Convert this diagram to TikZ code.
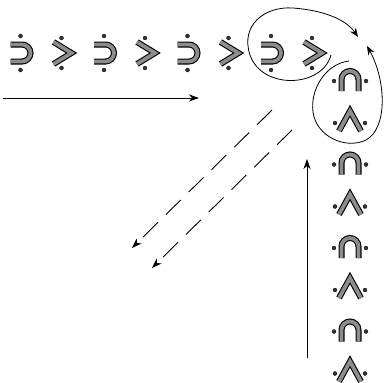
\documentclass[tikz,border=0pt]{standalone}
\usetikzlibrary{arrows.meta}
\tikzset{
  band/.style={line width=1.1pt, double=black!45, double distance=3.8pt},
  dotm/.style={fill=black!80, draw=black, line width=0.3pt},
  arr/.style={line width=0.9pt, -{Stealth[length=10pt,width=7pt,inset=3pt]}},
  darr/.style={arr, dash pattern=on 21pt off 11pt},
  loop/.style={line width=0.8pt, -{Stealth[length=9pt,width=7pt,inset=3pt]}},
  pics/capR/.style={code={
    \draw[band, rounded corners=8.5pt] (-11,-8.5) -- (9,-8.5) -- (9,8.5) -- (-11,8.5);
    \fill[dotm] (-1,-17) circle (2);
    \fill[dotm] (-1,17) circle (2);
  }},
  pics/chevR/.style={code={
    \draw[band, miter limit=10] (-9,-11) -- (9,0) -- (-9,11);
    \fill[dotm] (-1,-15) circle (2);
    \fill[dotm] (-1,15) circle (2);
  }},
  pics/capU/.style={code={
    \draw[band, rounded corners=8.5pt] (-8.5,11) -- (-8.5,-9) -- (8.5,-9) -- (8.5,11);
    \fill[dotm] (-16,1) circle (2);
    \fill[dotm] (16,1) circle (2);
  }},
  pics/chevU/.style={code={
    \draw[band, miter limit=10] (-11,10) -- (0,-10) -- (11,10);
    \fill[dotm] (-15,2) circle (2);
    \fill[dotm] (15,2) circle (2);
  }}
}
\begin{document}
\begin{tikzpicture}[x=1pt,y=-1pt]
\useasboundingbox (0,0) rectangle (384,383);
% top row
\foreach \k in {0,1,2,3} {
  \pic at ({21.5+83.5*\k},53) {capR};
  \pic at ({62.5+83.5*\k},53) {chevR};
}
% right column
\foreach \k in {0,1,2,3} {
  \pic at (350,{80+83.5*\k}) {capU};
  \pic at (350,{121+83.5*\k}) {chevU};
}
% arrows
\coordinate (h1) at (3,98);
\coordinate (h2) at (199,98);
\draw[arr] (h1) -- (h2);
\coordinate (v1) at (307,358);
\coordinate (v2) at (307,159);
\draw[arr] (v1) -- (v2);
\coordinate (d1a) at (272,110);
\coordinate (d1b) at (132,248);
\draw[darr] (d1a) -- (d1b);
\coordinate (d2a) at (292,130);
\coordinate (d2b) at (152,268);
\draw[darr] (d2a) -- (d2b);
% loops
\coordinate (l1a) at (331,55);
\coordinate (l1b) at (358,37);
\draw[loop] (l1a) .. controls (322,88) and (262,90) .. (250,55)
  .. controls (240,25) and (265,6) .. (293,8)
  .. controls (320,10) and (345,18) .. (l1b);
\coordinate (l2a) at (349,61);
\coordinate (l2b) at (367,46);
\draw[loop] (l2a) .. controls (325,64) and (310,90) .. (313,112)
  .. controls (316,136) and (345,150) .. (366,140)
  .. controls (388,128) and (386,80) .. (l2b);
\end{tikzpicture}
\end{document}
